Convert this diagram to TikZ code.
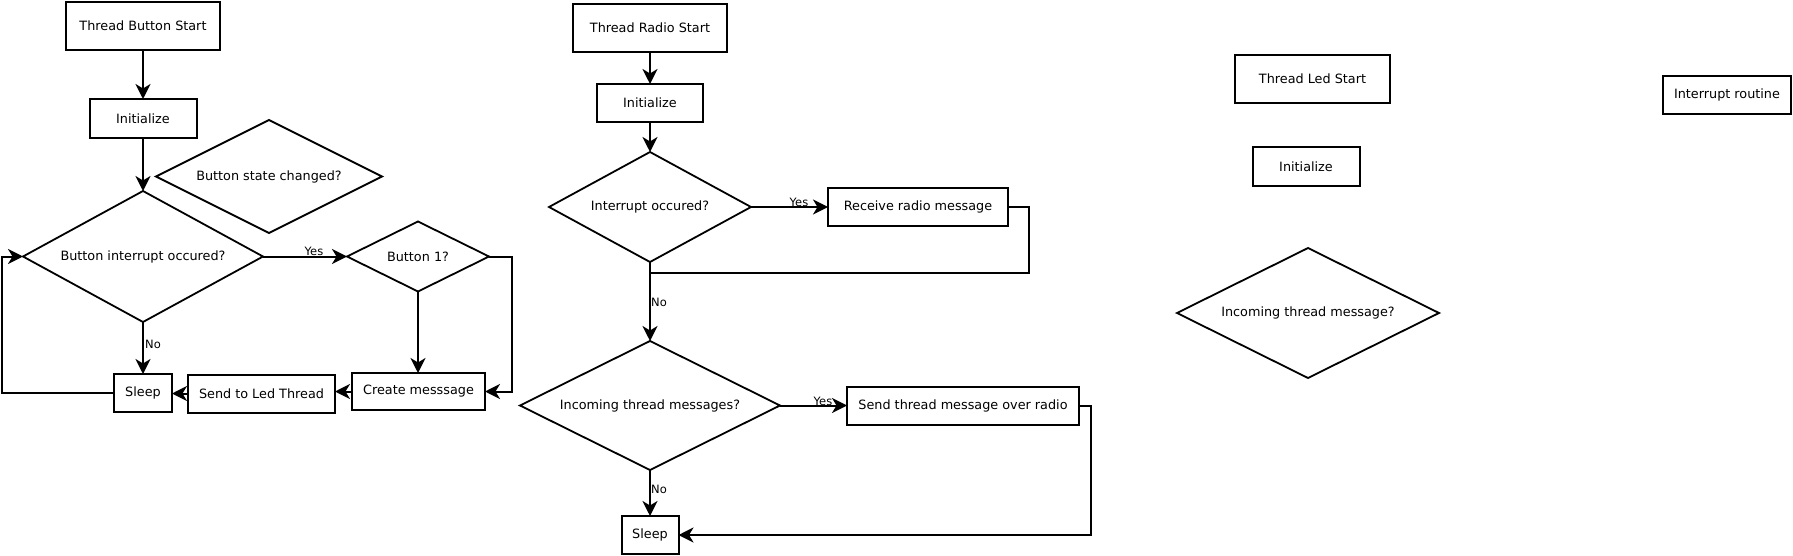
\documentclass[tikz,border=0pt]{standalone}
\usepackage{fontspec}
\setmainfont{DejaVu Sans}
\usetikzlibrary{shapes.geometric,arrows.meta}
\newcommand{\mainfs}{\fontsize{12.8}{15}\selectfont}
\newcommand{\lblfs}{\fontsize{11.5}{13}\selectfont}
\tikzset{
  box/.style={draw, line width=2pt, rectangle, inner sep=0pt, outer sep=0pt, font=\mainfs},
  dec/.style={draw, diamond, line width=1.8pt, inner sep=0pt, outer sep=0pt, aspect=2, font=\mainfs},
  arr/.style={-{Stealth[length=15pt,width=15pt,inset=4.5pt]}, line width=2pt},
  ln/.style={line width=2pt},
  lbl/.style={font=\lblfs, inner sep=0pt}
}
\begin{document}
\begin{tikzpicture}[x=1pt,y=-1pt]
\useasboundingbox[fill=white] (0,0) rectangle (1793,556);
% ---------- Button thread ----------
\node[box, minimum width=154pt, minimum height=48pt] (tbs) at (143,26) {Thread Button Start};
\node[box, minimum width=107pt, minimum height=39pt] (init1) at (143,118.5) {Initialize};
\node[dec, minimum width=226pt, minimum height=113pt] (bsc) at (269,176.5) {Button state changed?};
\node[dec, minimum width=240pt, minimum height=131pt] (bio) at (143,256.5) {Button interrupt occured?};
\node[dec, minimum width=142pt, minimum height=70pt] (b1) at (418,256.5) {Button 1?};
\node[box, minimum width=58pt, minimum height=38pt] (sleep1) at (143,393) {Sleep};
\node[box, minimum width=147pt, minimum height=38pt] (sendled) at (261.5,393.5) {Send to Led Thread};
\node[box, minimum width=133pt, minimum height=37pt] (create) at (418.5,391.5) {Create messsage};
\coordinate (lpA) at (2,393);
\coordinate (lpB) at (2,256.5);
\coordinate (b1A) at (512,256.5);
\coordinate (b1B) at (512,391.5);

\draw[arr] (tbs.south) -- (init1.north);
\draw[arr] (init1.south) -- (bio.north);
\draw[arr] (bio.east) -- (b1.west);
\draw[arr] (b1.south) -- (b1.south |- create.north);
\draw[arr] (b1.east) -- (b1A) -- (b1B) -- (create.east);
\draw[arr] (create.west) -- (sendled.east |- create.west);
\draw[arr] (sendled.west) -- (sleep1.east |- sendled.west);
\draw[arr] (bio.south) -- (sleep1.north);
\draw[arr] (sleep1.west) -- (lpA) -- (lpB) -- (bio.west);
\node[lbl] (yes1) at (314,251) {Yes};
\node[lbl] (no1) at (153,344) {No};

% ---------- Radio thread ----------
\node[box, minimum width=154.5pt, minimum height=48pt] (trs) at (650,28) {Thread Radio Start};
\node[box, minimum width=106pt, minimum height=38pt] (init2) at (650,103) {Initialize};
\node[dec, minimum width=202pt, minimum height=110pt] (io) at (650,207) {Interrupt occured?};
\node[box, minimum width=180pt, minimum height=38pt] (rrm) at (918,207) {Receive radio message};
\node[dec, minimum width=260pt, minimum height=129pt] (itm) at (650,405.5) {Incoming thread messages?};
\node[box, minimum width=232pt, minimum height=38pt] (stm) at (963,405.5) {Send thread message over radio};
\node[box, minimum width=57pt, minimum height=38pt] (sleep2) at (650,535) {Sleep};
\coordinate (rrA) at (1029,207);
\coordinate (rrB) at (1029,273);
\coordinate (rrC) at (650,273);
\coordinate (stA) at (1091,405.5);
\coordinate (stB) at (1091,535);

\draw[arr] (trs.south) -- (init2.north);
\draw[arr] (init2.south) -- (io.north);
\draw[arr] (io.east) -- (rrm.west);
\draw[ln] (rrm.east) -- (rrA) -- (rrB) -- (rrC);
\draw[arr] (io.south) -- (itm.north);
\draw[arr] (itm.east) -- (stm.west);
\draw[arr] (stm.east) -- (stA) -- (stB) -- (sleep2.east);
\draw[arr] (itm.south) -- (sleep2.north);
\node[lbl] (yes2) at (799,202.5) {Yes};
\node[lbl] (no2) at (659,302) {No};
\node[lbl] (yes3) at (823,401) {Yes};
\node[lbl] (no3) at (659,489) {No};

% ---------- Led thread ----------
\node[box, minimum width=155pt, minimum height=48pt] (tls) at (1312.5,79) {Thread Led Start};
\node[box, minimum width=107pt, minimum height=39pt] (init3) at (1306,166.5) {Initialize};
\node[dec, minimum width=262pt, minimum height=130pt] (itm2) at (1308,313) {Incoming thread message?};

% ---------- Interrupt ----------
\node[box, minimum width=128pt, minimum height=38pt] (ir) at (1727,95) {Interrupt routine};
\end{tikzpicture}
\end{document}
